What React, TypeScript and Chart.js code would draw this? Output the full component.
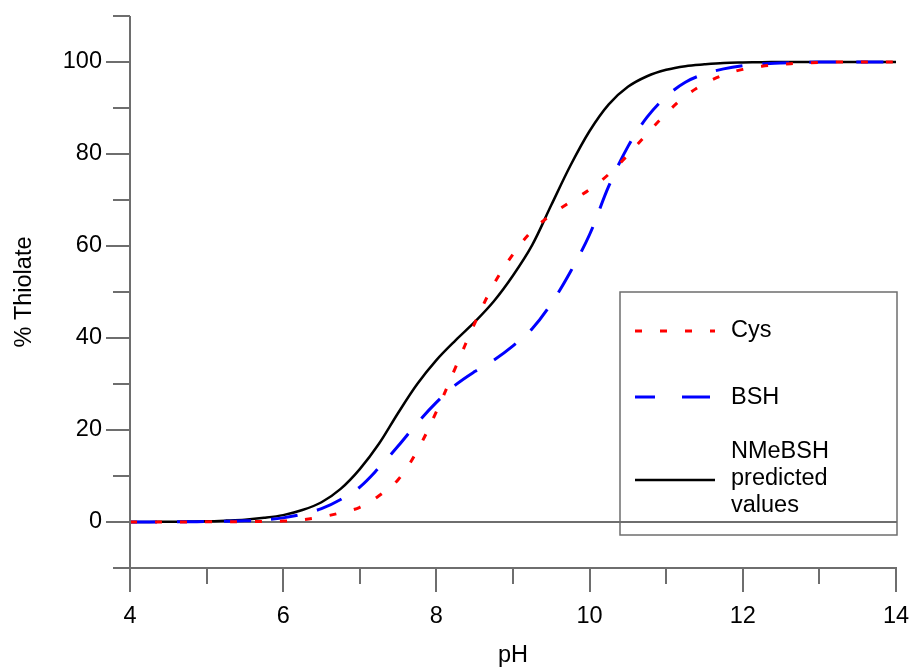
import React, { useEffect, useRef } from 'react';
import { Chart, registerables } from 'chart.js';

Chart.register(...registerables);

// pH values (x)
const pH = [
  4, 4.25, 4.5, 4.75, 5, 5.25, 5.5, 5.75, 6, 6.25, 6.5, 6.75, 7, 7.25, 7.5, 7.75,
  8, 8.25, 8.5, 8.75, 9, 9.25, 9.5, 9.75, 10, 10.25, 10.5, 10.75, 11, 11.25, 11.5,
  11.75, 12, 12.25, 12.5, 12.75, 13, 13.25, 13.5, 13.75, 14,
];

// % thiolate series
const cys = [
  0, 0, 0, 0.02, 0.03, 0.05, 0.08, 0.12, 0.2, 0.5, 1.1, 2.0, 3.2, 5.7, 9.2, 15.5,
  24, 33.6, 43.2, 51.7, 58.2, 63.3, 66.8, 69.6, 72.3, 75.6, 79.8, 84.4, 88.8, 92.6, 95.3,
  97.2, 98.4, 99.1, 99.5, 99.75, 99.9, 100, 100, 100, 100,
];
const bsh = [
  0, 0, 0.02, 0.05, 0.1, 0.15, 0.25, 0.45, 0.9, 1.7, 2.9, 4.9, 7.6, 11.8, 16.5, 21.5,
  26, 29.8, 32.7, 35.2, 38.3, 42, 47.5, 54.4, 62.5, 73, 81.6, 88, 92.5, 95.6, 97.4,
  98.5, 99.2, 99.6, 99.8, 99.9, 100, 100, 100, 100, 100,
];
const nmebsh = [
  0, 0.02, 0.05, 0.1, 0.15, 0.3, 0.5, 0.9, 1.5, 2.6, 4.3, 7.2, 11.5, 17, 23.7, 30,
  35.2, 39.5, 43.5, 48, 53.6, 60.2, 68.9, 77.5, 85, 90.8, 94.6, 96.9, 98.3, 99.1, 99.5,
  99.8, 99.9, 99.95, 100, 100, 100, 100, 100, 100, 100,
];

const xTickLabels = [4, 6, 8, 10, 12, 14];
const yTickLabels = [0, 20, 40, 60, 80, 100];
const seriesNames = ['Cys', 'BSH', 'NMeBSH predicted values'];
const legendLines = [['Cys'], ['BSH'], ['NMeBSH', 'predicted', 'values']];

const FONT = "'Liberation Sans', Arial, Helvetica, sans-serif";
const AXIS = '#6e6e6e';
const FS = 23.5;

const zeroPad = (s: any) => {
  s.paddingTop = 0;
  s.paddingBottom = 0;
  s.paddingLeft = 0;
  s.paddingRight = 0;
};

export default function App() {
  const ref = useRef<HTMLCanvasElement>(null);

  useEffect(() => {
    document.body.style.margin = '0';
    if (!ref.current) return;
    Chart.defaults.font.family = FONT;

    const axesPlugin = {
      id: 'axesPlugin',
      beforeDatasetsDraw(chart: any) {
        const { ctx, chartArea, scales } = chart;
        const y0 = Math.round(scales.y.getPixelForValue(0));
        ctx.save();
        ctx.strokeStyle = AXIS;
        ctx.lineWidth = 2;
        ctx.beginPath();
        ctx.moveTo(chartArea.left, y0);
        ctx.lineTo(chartArea.right + 1, y0);
        ctx.stroke();
        ctx.restore();
      },
      afterDatasetsDraw(chart: any) {
        const { ctx, chartArea, scales } = chart;
        const xs = scales.x;
        const ys = scales.y;
        const ax = Math.round(xs.getPixelForValue(xs.min));
        const ay = Math.round(ys.getPixelForValue(ys.min));
        ctx.save();
        ctx.strokeStyle = AXIS;
        ctx.lineWidth = 2;
        ctx.beginPath();
        // y axis
        ctx.moveTo(ax, Math.round(ys.getPixelForValue(ys.max)));
        ctx.lineTo(ax, ay);
        // x axis
        ctx.moveTo(ax, ay);
        ctx.lineTo(Math.round(xs.getPixelForValue(xs.max)) + 1, ay);
        ys.ticks.forEach((t: any) => {
          const py = Math.round(ys.getPixelForValue(t.value));
          const major = Math.abs(Math.round(t.value) % 20) === 0;
          const len = major ? 24 : 17;
          ctx.moveTo(ax - len, py);
          ctx.lineTo(ax, py);
        });
        xs.ticks.forEach((t: any) => {
          const px = Math.round(xs.getPixelForValue(t.value));
          const major = Math.abs(Math.round(t.value) % 2) === 0;
          const len = major ? 24 : 16;
          ctx.moveTo(px, ay);
          ctx.lineTo(px, ay + len);
        });
        ctx.stroke();

        // legend
        const bx = chartArea.right - 276;
        const by = 292;
        const bw = 277;
        const bh = 243;
        ctx.lineWidth = 1.5;
        ctx.strokeRect(bx, by, bw, bh);

        const ds = chart.data.datasets;
        const rows = [331, 397, 480];
        const textRows = [[331], [398], [452, 479, 506]];
        const dashes = [[7, 18], [20, 27, 28, 100], []];
        ds.forEach((d: any, i: number) => {
          ctx.save();
          ctx.strokeStyle = d.borderColor;
          ctx.lineWidth = d.borderWidth;
          ctx.setLineDash(dashes[i]);
          ctx.beginPath();
          ctx.moveTo(bx + 15, rows[i]);
          ctx.lineTo(bx + 95, rows[i]);
          ctx.stroke();
          ctx.restore();
          ctx.fillStyle = '#000';
          ctx.font = `${FS}px ${FONT}`;
          ctx.textBaseline = 'middle';
          ctx.textAlign = 'left';
          legendLines[i].forEach((s, k) => {
            ctx.fillText(s, bx + 111, textRows[i][k]);
          });
        });
        ctx.restore();
      },
    };

    const mk = (arr: number[]) => pH.map((p, i) => ({ x: p, y: arr[i] }));

    const common = {
      pointRadius: 0,
      tension: 0.35,
      fill: false,
    };

    const chart = new Chart(ref.current, {
      type: 'line',
      data: {
        datasets: [
          {
            ...common,
            label: seriesNames[0],
            data: mk(cys),
            borderColor: '#ff0000',
            borderWidth: 3,
            borderDash: [7, 18],
          },
          {
            ...common,
            label: seriesNames[1],
            data: mk(bsh),
            borderColor: '#0000ff',
            borderWidth: 3,
            borderDash: [27, 20],
          },
          {
            ...common,
            label: seriesNames[2],
            data: mk(nmebsh),
            borderColor: '#000000',
            borderWidth: 2.5,
          },
        ],
      },
      options: {
        responsive: false,
        animation: false,
        layout: { padding: { top: 16, right: 17, left: 0, bottom: 0 } },
        plugins: { legend: { display: false }, tooltip: { enabled: false } },
        scales: {
          x: {
            type: 'linear',
            min: 4,
            max: 14,
            grid: { display: false, drawTicks: false },
            border: { display: false },
            ticks: {
              stepSize: 1,
              autoSkip: false,
              maxRotation: 0,
              padding: 34,
              color: '#000',
              font: { size: FS },
              callback: (v: any) => (xTickLabels.includes(Number(v)) ? String(v) : ''),
            },
            title: {
              display: true,
              text: 'pH',
              color: '#000',
              font: { size: FS },
              padding: { top: 0, bottom: 1 },
            },
            afterFit: (s: any) => {
              s.height = 103;
              zeroPad(s);
            },
          },
          y: {
            type: 'linear',
            min: -10,
            max: 110,
            grid: { display: false, drawTicks: false },
            border: { display: false },
            ticks: {
              stepSize: 10,
              autoSkip: false,
              padding: 28,
              color: '#000',
              font: { size: FS },
              callback: (v: any) => (yTickLabels.includes(Number(v)) ? String(v) : ''),
            },
            title: {
              display: true,
              text: '% Thiolate',
              color: '#000',
              font: { size: FS },
              padding: { top: 10, bottom: 0 },
            },
            afterFit: (s: any) => {
              s.width = 130;
              zeroPad(s);
            },
          },
        },
      },
      plugins: [axesPlugin],
    } as any);

    return () => chart.destroy();
  }, []);

  return (
    <div style={{ width: 913, height: 671 }}>
      <canvas ref={ref} width={913} height={671} style={{ display: 'block' }} />
    </div>
  );
}
